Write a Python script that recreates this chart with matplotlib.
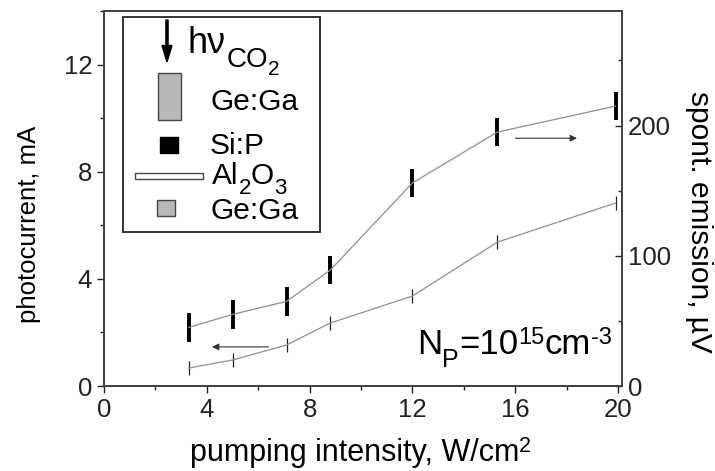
import matplotlib.pyplot as plt
from matplotlib.patches import Rectangle, FancyArrow
from matplotlib.ticker import MultipleLocator

plt.rcParams['font.family'] = ['Liberation Sans', 'DejaVu Sans']

# --- data ---
intensity = [3.3, 5.0, 7.1, 8.8, 12.0, 15.3, 19.9]        # W/cm2
photocurrent = [0.67, 0.97, 1.53, 2.35, 3.36, 5.37, 6.83]  # mA (left axis)
photocurrent_err = [0.25] * 7
emission = [45, 55, 65, 89, 156, 195, 215]                 # uV (right axis)
emission_err = [11] * 7

W, H = 715, 471
fig = plt.figure(figsize=(W / 100, H / 100), dpi=100)
ax = fig.add_axes([104 / W, 1 - 386 / H, (622 - 104) / W, (386 - 11) / H])
ax2 = ax.twinx()

line_c = '#8f8f8f'
ax.errorbar(intensity, photocurrent, yerr=photocurrent_err, color=line_c, lw=0.9,
            ecolor='#222222', elinewidth=0.9, capsize=0)
ax2.errorbar(intensity, emission, yerr=emission_err, color=line_c, lw=0.9,
             ecolor='black', elinewidth=2.8, capsize=0)

ax.set_xlim(0, 20.15)
ax.set_ylim(0, 14)
ax2.set_ylim(0, 288)

ax.xaxis.set_major_locator(MultipleLocator(4))
ax.xaxis.set_minor_locator(MultipleLocator(2))
ax.yaxis.set_major_locator(MultipleLocator(4))
ax.yaxis.set_minor_locator(MultipleLocator(2))
ax2.yaxis.set_major_locator(MultipleLocator(100))
ax2.yaxis.set_minor_locator(MultipleLocator(50))

fs = 18.5
ax.tick_params(axis='both', which='major', direction='out', length=5, width=1,
               labelsize=fs, colors='#222222', top=False, right=False)
ax.tick_params(axis='both', which='minor', direction='out', length=3, width=1,
               colors='#222222', top=False, right=False)
ax2.tick_params(axis='y', which='major', direction='in', length=5, width=1,
                labelsize=fs, colors='#222222', pad=4)
ax2.tick_params(axis='y', which='minor', direction='in', length=3, width=1, colors='#222222')

for a in (ax, ax2):
    for s in a.spines.values():
        s.set_color('#444444')
        s.set_linewidth(1.4)

# axis titles, placed where the reference has them (slightly below axis centre)
fig.text(29 / W, 1 - 224 / H, 'photocurrent, mA', fontsize=fs, rotation=90,
         ha='center', va='center')
fig.text(699 / W, 1 - 222 / H, 'spont. emission, \u00b5V', fontsize=21.5, rotation=-90,
         ha='center', va='center')

renderer = fig.canvas.get_renderer()


def chain(x, y, parts):
    """Write text pieces one after another; x, y in pixels from top-left.
    parts: (text, fontsize, baseline shift in px, downward positive)."""
    for txt, size, dy in parts:
        t = fig.text(x / W, 1 - (y + dy) / H, txt, fontsize=size, va='baseline')
        x = t.get_window_extent(renderer).x1


# x label with raised small 2
chain(190, 461, [('pumping intensity, W/cm', 22, 0), ('2', 15.5, -9)])

# axis-assignment arrows
ax.annotate('', xy=(4.2, 1.46), xytext=(6.4, 1.46),
            arrowprops=dict(arrowstyle='-|>', color='#333333', lw=0.8,
                            mutation_scale=10, shrinkA=0, shrinkB=0))
ax.annotate('', xy=(18.4, 9.25), xytext=(16.0, 9.25),
            arrowprops=dict(arrowstyle='-|>', color='#333333', lw=0.8,
                            mutation_scale=10, shrinkA=0, shrinkB=0))

# N_P label
chain(417, 354, [('N', 25, 0), ('P', 18, 13), ('=10', 25, 0), ('15', 17, -10),
                 ('cm', 25, 0), ('-3', 17, -10)])

# hand-drawn legend box
def px(x, y):
    return x / W, 1 - y / H

tf = fig.transFigure
fig.patches.append(Rectangle(px(123, 232), 197 / W, 215 / H, transform=tf,
                             fill=False, ec='#333333', lw=1.4))
fig.patches.append(FancyArrow(*px(167, 20), 0, -42 / H, width=0.003, head_width=0.014,
                              head_length=0.035, length_includes_head=True,
                              color='black', transform=tf))
chain(188, 53, [('h\u03bd', 26, 0), ('CO', 20, 14), ('2', 15, 22)])
fig.patches.append(Rectangle(px(158, 120), 23 / W, 47 / H, transform=tf,
                             fc='#b8b8b8', ec='#444444', lw=1))
chain(210, 110, [('Ge:Ga', 21.5, 0)])
fig.patches.append(Rectangle(px(160, 153), 18 / W, 16 / H, transform=tf,
                             fc='black', ec='black', lw=1))
chain(210, 154, [('Si:P', 21.5, 0)])
fig.patches.append(Rectangle(px(135, 179), 68 / W, 6 / H, transform=tf,
                             fc='white', ec='#444444', lw=1))
chain(212, 184, [('Al', 21.5, 0), ('2', 16, 10), ('O', 21.5, 0), ('3', 16, 10)])
fig.patches.append(Rectangle(px(157, 216), 18 / W, 16 / H, transform=tf,
                             fc='#b8b8b8', ec='#444444', lw=1))
chain(210, 219, [('Ge:Ga', 21.5, 0)])

fig.savefig('out.png', dpi=100)
